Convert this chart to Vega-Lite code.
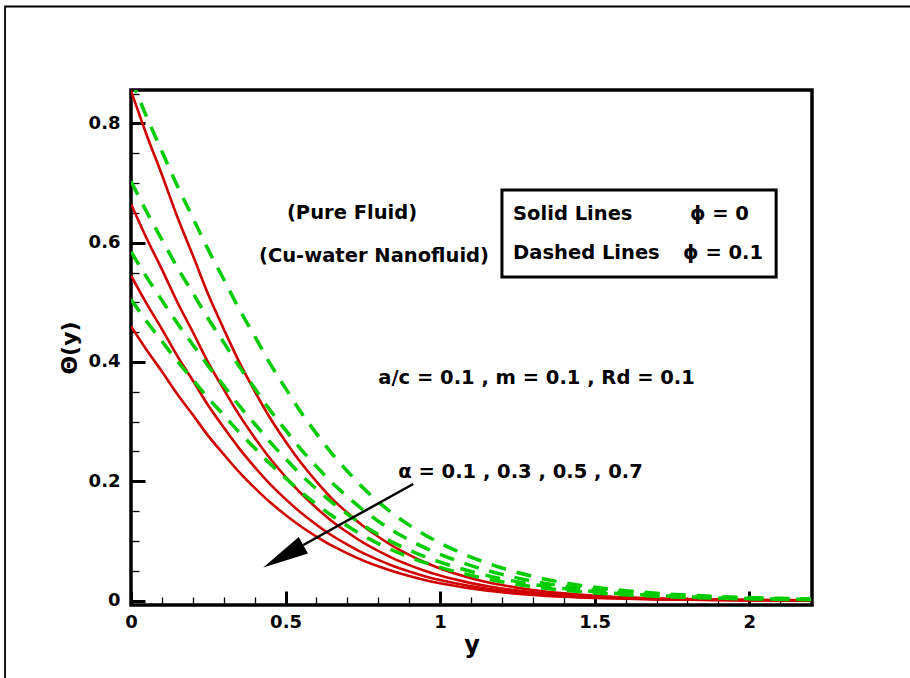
{
"$schema":"https://vega.github.io/schema/vega-lite/v6.json",
"width":681,"height":515,
"autosize":"none",
"padding":{"left":131,"top":90,"right":98,"bottom":73},
"background":"white",
"config":{"view":{"stroke":"black","strokeWidth":3.5},"font":"DejaVu Sans"},
"datasets":{
"curves":[
{"phi":0,"alpha":0.1,"y":0,"theta":0.855},{"phi":0,"alpha":0.1,"y":0.05,"theta":0.7815},{"phi":0,"alpha":0.1,"y":0.1,"theta":0.7139},{"phi":0,"alpha":0.1,"y":0.15,"theta":0.643},{"phi":0,"alpha":0.1,"y":0.2,"theta":0.5788},{"phi":0,"alpha":0.1,"y":0.25,"theta":0.513},{"phi":0,"alpha":0.1,"y":0.3,"theta":0.4553},{"phi":0,"alpha":0.1,"y":0.35,"theta":0.4001},{"phi":0,"alpha":0.1,"y":0.4,"theta":0.3511},{"phi":0,"alpha":0.1,"y":0.45,"theta":0.3061},{"phi":0,"alpha":0.1,"y":0.5,"theta":0.2668},{"phi":0,"alpha":0.1,"y":0.55,"theta":0.2309},{"phi":0,"alpha":0.1,"y":0.6,"theta":0.1995},{"phi":0,"alpha":0.1,"y":0.65,"theta":0.171},{"phi":0,"alpha":0.1,"y":0.7,"theta":0.1471},{"phi":0,"alpha":0.1,"y":0.75,"theta":0.1253},{"phi":0,"alpha":0.1,"y":0.8,"theta":0.1069},{"phi":0,"alpha":0.1,"y":0.85,"theta":0.0903},{"phi":0,"alpha":0.1,"y":0.9,"theta":0.0764},{"phi":0,"alpha":0.1,"y":0.95,"theta":0.0641},{"phi":0,"alpha":0.1,"y":1,"theta":0.0538},{"phi":0,"alpha":0.1,"y":1.1,"theta":0.0375},{"phi":0,"alpha":0.1,"y":1.2,"theta":0.0259},{"phi":0,"alpha":0.1,"y":1.3,"theta":0.0177},{"phi":0,"alpha":0.1,"y":1.4,"theta":0.012},{"phi":0,"alpha":0.1,"y":1.5,"theta":0.008},{"phi":0,"alpha":0.1,"y":1.6,"theta":0.0053},{"phi":0,"alpha":0.1,"y":1.7,"theta":0.0035},{"phi":0,"alpha":0.1,"y":1.8,"theta":0.0023},{"phi":0,"alpha":0.1,"y":1.9,"theta":0.0015},{"phi":0,"alpha":0.1,"y":2,"theta":0.0009},{"phi":0,"alpha":0.1,"y":2.1,"theta":0.0006},{"phi":0,"alpha":0.1,"y":2.2,"theta":0.0003},
{"phi":0,"alpha":0.3,"y":0,"theta":0.665},{"phi":0,"alpha":0.3,"y":0.05,"theta":0.6078},{"phi":0,"alpha":0.3,"y":0.1,"theta":0.5553},{"phi":0,"alpha":0.3,"y":0.15,"theta":0.5001},{"phi":0,"alpha":0.3,"y":0.2,"theta":0.4502},{"phi":0,"alpha":0.3,"y":0.25,"theta":0.399},{"phi":0,"alpha":0.3,"y":0.3,"theta":0.3541},{"phi":0,"alpha":0.3,"y":0.35,"theta":0.3112},{"phi":0,"alpha":0.3,"y":0.4,"theta":0.273},{"phi":0,"alpha":0.3,"y":0.45,"theta":0.2381},{"phi":0,"alpha":0.3,"y":0.5,"theta":0.2075},{"phi":0,"alpha":0.3,"y":0.55,"theta":0.1796},{"phi":0,"alpha":0.3,"y":0.6,"theta":0.1551},{"phi":0,"alpha":0.3,"y":0.65,"theta":0.133},{"phi":0,"alpha":0.3,"y":0.7,"theta":0.1144},{"phi":0,"alpha":0.3,"y":0.75,"theta":0.0974},{"phi":0,"alpha":0.3,"y":0.8,"theta":0.0831},{"phi":0,"alpha":0.3,"y":0.85,"theta":0.0702},{"phi":0,"alpha":0.3,"y":0.9,"theta":0.0594},{"phi":0,"alpha":0.3,"y":0.95,"theta":0.0499},{"phi":0,"alpha":0.3,"y":1,"theta":0.0418},{"phi":0,"alpha":0.3,"y":1.1,"theta":0.0292},{"phi":0,"alpha":0.3,"y":1.2,"theta":0.0201},{"phi":0,"alpha":0.3,"y":1.3,"theta":0.0138},{"phi":0,"alpha":0.3,"y":1.4,"theta":0.0093},{"phi":0,"alpha":0.3,"y":1.5,"theta":0.0063},{"phi":0,"alpha":0.3,"y":1.6,"theta":0.0041},{"phi":0,"alpha":0.3,"y":1.7,"theta":0.0027},{"phi":0,"alpha":0.3,"y":1.8,"theta":0.0018},{"phi":0,"alpha":0.3,"y":1.9,"theta":0.0011},{"phi":0,"alpha":0.3,"y":2,"theta":0.0007},{"phi":0,"alpha":0.3,"y":2.1,"theta":0.0005},{"phi":0,"alpha":0.3,"y":2.2,"theta":0.0003},
{"phi":0,"alpha":0.5,"y":0,"theta":0.545},{"phi":0,"alpha":0.5,"y":0.05,"theta":0.4981},{"phi":0,"alpha":0.5,"y":0.1,"theta":0.4551},{"phi":0,"alpha":0.5,"y":0.15,"theta":0.4098},{"phi":0,"alpha":0.5,"y":0.2,"theta":0.369},{"phi":0,"alpha":0.5,"y":0.25,"theta":0.327},{"phi":0,"alpha":0.5,"y":0.3,"theta":0.2902},{"phi":0,"alpha":0.5,"y":0.35,"theta":0.2551},{"phi":0,"alpha":0.5,"y":0.4,"theta":0.2238},{"phi":0,"alpha":0.5,"y":0.45,"theta":0.1951},{"phi":0,"alpha":0.5,"y":0.5,"theta":0.17},{"phi":0,"alpha":0.5,"y":0.55,"theta":0.1472},{"phi":0,"alpha":0.5,"y":0.6,"theta":0.1271},{"phi":0,"alpha":0.5,"y":0.65,"theta":0.109},{"phi":0,"alpha":0.5,"y":0.7,"theta":0.0937},{"phi":0,"alpha":0.5,"y":0.75,"theta":0.0798},{"phi":0,"alpha":0.5,"y":0.8,"theta":0.0681},{"phi":0,"alpha":0.5,"y":0.85,"theta":0.0576},{"phi":0,"alpha":0.5,"y":0.9,"theta":0.0487},{"phi":0,"alpha":0.5,"y":0.95,"theta":0.0409},{"phi":0,"alpha":0.5,"y":1,"theta":0.0343},{"phi":0,"alpha":0.5,"y":1.1,"theta":0.0239},{"phi":0,"alpha":0.5,"y":1.2,"theta":0.0165},{"phi":0,"alpha":0.5,"y":1.3,"theta":0.0113},{"phi":0,"alpha":0.5,"y":1.4,"theta":0.0076},{"phi":0,"alpha":0.5,"y":1.5,"theta":0.0051},{"phi":0,"alpha":0.5,"y":1.6,"theta":0.0034},{"phi":0,"alpha":0.5,"y":1.7,"theta":0.0022},{"phi":0,"alpha":0.5,"y":1.8,"theta":0.0015},{"phi":0,"alpha":0.5,"y":1.9,"theta":0.0009},{"phi":0,"alpha":0.5,"y":2,"theta":0.0006},{"phi":0,"alpha":0.5,"y":2.1,"theta":0.0004},{"phi":0,"alpha":0.5,"y":2.2,"theta":0.0002},
{"phi":0,"alpha":0.7,"y":0,"theta":0.46},{"phi":0,"alpha":0.7,"y":0.05,"theta":0.4204},{"phi":0,"alpha":0.7,"y":0.1,"theta":0.3841},{"phi":0,"alpha":0.7,"y":0.15,"theta":0.3459},{"phi":0,"alpha":0.7,"y":0.2,"theta":0.3114},{"phi":0,"alpha":0.7,"y":0.25,"theta":0.276},{"phi":0,"alpha":0.7,"y":0.3,"theta":0.245},{"phi":0,"alpha":0.7,"y":0.35,"theta":0.2153},{"phi":0,"alpha":0.7,"y":0.4,"theta":0.1889},{"phi":0,"alpha":0.7,"y":0.45,"theta":0.1647},{"phi":0,"alpha":0.7,"y":0.5,"theta":0.1435},{"phi":0,"alpha":0.7,"y":0.55,"theta":0.1242},{"phi":0,"alpha":0.7,"y":0.6,"theta":0.1073},{"phi":0,"alpha":0.7,"y":0.65,"theta":0.092},{"phi":0,"alpha":0.7,"y":0.7,"theta":0.0791},{"phi":0,"alpha":0.7,"y":0.75,"theta":0.0674},{"phi":0,"alpha":0.7,"y":0.8,"theta":0.0575},{"phi":0,"alpha":0.7,"y":0.85,"theta":0.0486},{"phi":0,"alpha":0.7,"y":0.9,"theta":0.0411},{"phi":0,"alpha":0.7,"y":0.95,"theta":0.0345},{"phi":0,"alpha":0.7,"y":1,"theta":0.0289},{"phi":0,"alpha":0.7,"y":1.1,"theta":0.0202},{"phi":0,"alpha":0.7,"y":1.2,"theta":0.0139},{"phi":0,"alpha":0.7,"y":1.3,"theta":0.0095},{"phi":0,"alpha":0.7,"y":1.4,"theta":0.0064},{"phi":0,"alpha":0.7,"y":1.5,"theta":0.0043},{"phi":0,"alpha":0.7,"y":1.6,"theta":0.0029},{"phi":0,"alpha":0.7,"y":1.7,"theta":0.0019},{"phi":0,"alpha":0.7,"y":1.8,"theta":0.0012},{"phi":0,"alpha":0.7,"y":1.9,"theta":0.0008},{"phi":0,"alpha":0.7,"y":2,"theta":0.0005},{"phi":0,"alpha":0.7,"y":2.1,"theta":0.0003},{"phi":0,"alpha":0.7,"y":2.2,"theta":0.0002},
{"phi":0.1,"alpha":0.1,"y":0,"theta":0.875},{"phi":0.1,"alpha":0.1,"y":0.05,"theta":0.8117},{"phi":0.1,"alpha":0.1,"y":0.1,"theta":0.7531},{"phi":0.1,"alpha":0.1,"y":0.15,"theta":0.6952},{"phi":0.1,"alpha":0.1,"y":0.2,"theta":0.6417},{"phi":0.1,"alpha":0.1,"y":0.25,"theta":0.588},{"phi":0.1,"alpha":0.1,"y":0.3,"theta":0.5387},{"phi":0.1,"alpha":0.1,"y":0.35,"theta":0.4887},{"phi":0.1,"alpha":0.1,"y":0.4,"theta":0.4433},{"phi":0.1,"alpha":0.1,"y":0.45,"theta":0.3971},{"phi":0.1,"alpha":0.1,"y":0.5,"theta":0.3558},{"phi":0.1,"alpha":0.1,"y":0.55,"theta":0.3155},{"phi":0.1,"alpha":0.1,"y":0.6,"theta":0.2798},{"phi":0.1,"alpha":0.1,"y":0.65,"theta":0.2463},{"phi":0.1,"alpha":0.1,"y":0.7,"theta":0.2168},{"phi":0.1,"alpha":0.1,"y":0.75,"theta":0.1894},{"phi":0.1,"alpha":0.1,"y":0.8,"theta":0.1656},{"phi":0.1,"alpha":0.1,"y":0.85,"theta":0.1446},{"phi":0.1,"alpha":0.1,"y":0.9,"theta":0.1264},{"phi":0.1,"alpha":0.1,"y":0.95,"theta":0.1104},{"phi":0.1,"alpha":0.1,"y":1,"theta":0.0964},{"phi":0.1,"alpha":0.1,"y":1.1,"theta":0.0729},{"phi":0.1,"alpha":0.1,"y":1.2,"theta":0.0545},{"phi":0.1,"alpha":0.1,"y":1.3,"theta":0.0404},{"phi":0.1,"alpha":0.1,"y":1.4,"theta":0.0299},{"phi":0.1,"alpha":0.1,"y":1.5,"theta":0.0221},{"phi":0.1,"alpha":0.1,"y":1.6,"theta":0.0165},{"phi":0.1,"alpha":0.1,"y":1.7,"theta":0.0122},{"phi":0.1,"alpha":0.1,"y":1.8,"theta":0.009},{"phi":0.1,"alpha":0.1,"y":1.9,"theta":0.0067},{"phi":0.1,"alpha":0.1,"y":2,"theta":0.0049},{"phi":0.1,"alpha":0.1,"y":2.1,"theta":0.0037},{"phi":0.1,"alpha":0.1,"y":2.2,"theta":0.0027},
{"phi":0.1,"alpha":0.3,"y":0,"theta":0.703},{"phi":0.1,"alpha":0.3,"y":0.05,"theta":0.6522},{"phi":0.1,"alpha":0.3,"y":0.1,"theta":0.6051},{"phi":0.1,"alpha":0.3,"y":0.15,"theta":0.5585},{"phi":0.1,"alpha":0.3,"y":0.2,"theta":0.5156},{"phi":0.1,"alpha":0.3,"y":0.25,"theta":0.4724},{"phi":0.1,"alpha":0.3,"y":0.3,"theta":0.4328},{"phi":0.1,"alpha":0.3,"y":0.35,"theta":0.3926},{"phi":0.1,"alpha":0.3,"y":0.4,"theta":0.3561},{"phi":0.1,"alpha":0.3,"y":0.45,"theta":0.319},{"phi":0.1,"alpha":0.3,"y":0.5,"theta":0.2858},{"phi":0.1,"alpha":0.3,"y":0.55,"theta":0.2535},{"phi":0.1,"alpha":0.3,"y":0.6,"theta":0.2248},{"phi":0.1,"alpha":0.3,"y":0.65,"theta":0.1979},{"phi":0.1,"alpha":0.3,"y":0.7,"theta":0.1742},{"phi":0.1,"alpha":0.3,"y":0.75,"theta":0.1522},{"phi":0.1,"alpha":0.3,"y":0.8,"theta":0.133},{"phi":0.1,"alpha":0.3,"y":0.85,"theta":0.1162},{"phi":0.1,"alpha":0.3,"y":0.9,"theta":0.1015},{"phi":0.1,"alpha":0.3,"y":0.95,"theta":0.0887},{"phi":0.1,"alpha":0.3,"y":1,"theta":0.0775},{"phi":0.1,"alpha":0.3,"y":1.1,"theta":0.0586},{"phi":0.1,"alpha":0.3,"y":1.2,"theta":0.0438},{"phi":0.1,"alpha":0.3,"y":1.3,"theta":0.0325},{"phi":0.1,"alpha":0.3,"y":1.4,"theta":0.024},{"phi":0.1,"alpha":0.3,"y":1.5,"theta":0.0178},{"phi":0.1,"alpha":0.3,"y":1.6,"theta":0.0132},{"phi":0.1,"alpha":0.3,"y":1.7,"theta":0.0098},{"phi":0.1,"alpha":0.3,"y":1.8,"theta":0.0072},{"phi":0.1,"alpha":0.3,"y":1.9,"theta":0.0053},{"phi":0.1,"alpha":0.3,"y":2,"theta":0.0039},{"phi":0.1,"alpha":0.3,"y":2.1,"theta":0.003},{"phi":0.1,"alpha":0.3,"y":2.2,"theta":0.0022},
{"phi":0.1,"alpha":0.5,"y":0,"theta":0.585},{"phi":0.1,"alpha":0.5,"y":0.05,"theta":0.5427},{"phi":0.1,"alpha":0.5,"y":0.1,"theta":0.5035},{"phi":0.1,"alpha":0.5,"y":0.15,"theta":0.4648},{"phi":0.1,"alpha":0.5,"y":0.2,"theta":0.429},{"phi":0.1,"alpha":0.5,"y":0.25,"theta":0.3931},{"phi":0.1,"alpha":0.5,"y":0.3,"theta":0.3602},{"phi":0.1,"alpha":0.5,"y":0.35,"theta":0.3267},{"phi":0.1,"alpha":0.5,"y":0.4,"theta":0.2964},{"phi":0.1,"alpha":0.5,"y":0.45,"theta":0.2655},{"phi":0.1,"alpha":0.5,"y":0.5,"theta":0.2379},{"phi":0.1,"alpha":0.5,"y":0.55,"theta":0.211},{"phi":0.1,"alpha":0.5,"y":0.6,"theta":0.1871},{"phi":0.1,"alpha":0.5,"y":0.65,"theta":0.1647},{"phi":0.1,"alpha":0.5,"y":0.7,"theta":0.145},{"phi":0.1,"alpha":0.5,"y":0.75,"theta":0.1267},{"phi":0.1,"alpha":0.5,"y":0.8,"theta":0.1107},{"phi":0.1,"alpha":0.5,"y":0.85,"theta":0.0967},{"phi":0.1,"alpha":0.5,"y":0.9,"theta":0.0845},{"phi":0.1,"alpha":0.5,"y":0.95,"theta":0.0738},{"phi":0.1,"alpha":0.5,"y":1,"theta":0.0645},{"phi":0.1,"alpha":0.5,"y":1.1,"theta":0.0487},{"phi":0.1,"alpha":0.5,"y":1.2,"theta":0.0364},{"phi":0.1,"alpha":0.5,"y":1.3,"theta":0.027},{"phi":0.1,"alpha":0.5,"y":1.4,"theta":0.02},{"phi":0.1,"alpha":0.5,"y":1.5,"theta":0.0148},{"phi":0.1,"alpha":0.5,"y":1.6,"theta":0.011},{"phi":0.1,"alpha":0.5,"y":1.7,"theta":0.0081},{"phi":0.1,"alpha":0.5,"y":1.8,"theta":0.006},{"phi":0.1,"alpha":0.5,"y":1.9,"theta":0.0044},{"phi":0.1,"alpha":0.5,"y":2,"theta":0.0033},{"phi":0.1,"alpha":0.5,"y":2.1,"theta":0.0025},{"phi":0.1,"alpha":0.5,"y":2.2,"theta":0.0018},
{"phi":0.1,"alpha":0.7,"y":0,"theta":0.505},{"phi":0.1,"alpha":0.7,"y":0.05,"theta":0.4685},{"phi":0.1,"alpha":0.7,"y":0.1,"theta":0.4347},{"phi":0.1,"alpha":0.7,"y":0.15,"theta":0.4012},{"phi":0.1,"alpha":0.7,"y":0.2,"theta":0.3704},{"phi":0.1,"alpha":0.7,"y":0.25,"theta":0.3394},{"phi":0.1,"alpha":0.7,"y":0.3,"theta":0.3109},{"phi":0.1,"alpha":0.7,"y":0.35,"theta":0.282},{"phi":0.1,"alpha":0.7,"y":0.4,"theta":0.2558},{"phi":0.1,"alpha":0.7,"y":0.45,"theta":0.2292},{"phi":0.1,"alpha":0.7,"y":0.5,"theta":0.2053},{"phi":0.1,"alpha":0.7,"y":0.55,"theta":0.1821},{"phi":0.1,"alpha":0.7,"y":0.6,"theta":0.1615},{"phi":0.1,"alpha":0.7,"y":0.65,"theta":0.1422},{"phi":0.1,"alpha":0.7,"y":0.7,"theta":0.1251},{"phi":0.1,"alpha":0.7,"y":0.75,"theta":0.1093},{"phi":0.1,"alpha":0.7,"y":0.8,"theta":0.0955},{"phi":0.1,"alpha":0.7,"y":0.85,"theta":0.0835},{"phi":0.1,"alpha":0.7,"y":0.9,"theta":0.0729},{"phi":0.1,"alpha":0.7,"y":0.95,"theta":0.0637},{"phi":0.1,"alpha":0.7,"y":1,"theta":0.0557},{"phi":0.1,"alpha":0.7,"y":1.1,"theta":0.0421},{"phi":0.1,"alpha":0.7,"y":1.2,"theta":0.0315},{"phi":0.1,"alpha":0.7,"y":1.3,"theta":0.0233},{"phi":0.1,"alpha":0.7,"y":1.4,"theta":0.0173},{"phi":0.1,"alpha":0.7,"y":1.5,"theta":0.0128},{"phi":0.1,"alpha":0.7,"y":1.6,"theta":0.0095},{"phi":0.1,"alpha":0.7,"y":1.7,"theta":0.007},{"phi":0.1,"alpha":0.7,"y":1.8,"theta":0.0052},{"phi":0.1,"alpha":0.7,"y":1.9,"theta":0.0038},{"phi":0.1,"alpha":0.7,"y":2,"theta":0.0028},{"phi":0.1,"alpha":0.7,"y":2.1,"theta":0.0021},{"phi":0.1,"alpha":0.7,"y":2.2,"theta":0.0016}
],
"centerNotes":[
{"note":"(Pure Fluid)","y":0.715,"theta":0.65},
{"note":"(Cu-water Nanofluid)","y":0.786,"theta":0.578},
{"note":"a/c = 0.1 , m = 0.1 , Rd = 0.1","y":1.312,"theta":0.373},
{"note":"α = 0.1 , 0.3 , 0.5 , 0.7","y":1.26,"theta":0.2155}
],
"leftNotes":[
{"note":"Solid Lines","y":1.236,"theta":0.648},
{"note":"ϕ = 0","y":1.808,"theta":0.648},
{"note":"Dashed Lines","y":1.236,"theta":0.5827},
{"note":"ϕ = 0.1","y":1.786,"theta":0.5827}
]
},
"layer":[
{"data":{"values":[{"y":-0.4075,"theta":0.996,"y2":3,"theta2":-0.5}]},
 "mark":{"type":"rect","fill":"transparent","stroke":"black","strokeWidth":1.8,"clip":false},
 "encoding":{"x":{"field":"y","type":"quantitative","scale":{"domain":[0,2.203],"nice":false,"zero":false},"axis":null},"x2":{"field":"y2"},"y":{"field":"theta","type":"quantitative","scale":{"domain":[-0.0075,0.856],"nice":false,"zero":false},"axis":null},"y2":{"field":"theta2"}}},
{"data":{"name":"curves"},
 "transform":[{"filter":"datum.phi == 0"}],
 "mark":{"type":"line","color":"#d00000","strokeWidth":2.6,"clip":true,"interpolate":"monotone"},
 "encoding":{
  "x":{"field":"y","type":"quantitative","scale":{"domain":[0,2.203],"nice":false,"zero":false},
   "axis":{"orient":"bottom","values":[0,0.5,1,1.5,2],"format":"~g","tickSize":-14,"tickWidth":3,"tickColor":"black","domain":false,"grid":false,"labelFont":"DejaVu Sans","labelFontWeight":"bold","labelFontSize":18,"labelColor":"black","labelPadding":22,"labelFlush":false,"labelOverlap":false,"title":"y","titleFont":"DejaVu Sans","titleFontWeight":"bold","titleFontSize":24,"titleColor":"black","titlePadding":2}},
  "y":{"field":"theta","type":"quantitative","scale":{"domain":[-0.0075,0.856],"nice":false,"zero":false},
   "axis":{"orient":"left","values":[0,0.2,0.4,0.6,0.8],"format":"~g","tickSize":-14,"tickWidth":3,"tickColor":"black","domain":false,"grid":false,"labelFont":"DejaVu Sans","labelFontWeight":"bold","labelFontSize":18,"labelColor":"black","labelPadding":25,"labelFlush":false,"labelOverlap":false,"title":"Θ(y)","titleFont":"DejaVu Sans","titleFontWeight":"bold","titleFontSize":22,"titleColor":"black","titlePadding":7}},
  "detail":{"field":"alpha","type":"nominal"}}},
{"data":{"name":"curves"},
 "transform":[{"filter":"datum.phi == 0.1"}],
 "mark":{"type":"line","color":"#00cc00","strokeWidth":3.5,"strokeDash":[15,11],"clip":true,"interpolate":"monotone"},
 "encoding":{
  "x":{"field":"y","type":"quantitative","scale":{"domain":[0,2.203],"nice":false,"zero":false},
   "axis":{"orient":"bottom","values":[0.1,0.2,0.3,0.4,0.6,0.7,0.8,0.9,1.1,1.2,1.3,1.4,1.6,1.7,1.8,1.9,2.1],"tickSize":-8,"tickWidth":1.3,"tickColor":"black","labels":false,"domain":false,"grid":false,"title":null}},
  "y":{"field":"theta","type":"quantitative","scale":{"domain":[-0.0075,0.856],"nice":false,"zero":false},
   "axis":{"orient":"left","values":[0.05,0.1,0.15,0.25,0.3,0.35,0.45,0.5,0.55,0.65,0.7,0.75,0.85],"tickSize":-8,"tickWidth":1.3,"tickColor":"black","labels":false,"domain":false,"grid":false,"title":null}},
  "detail":{"field":"alpha","type":"nominal"}}},
{"data":{"values":[{"y":0.913,"theta":0.1954,"y2":0.5574,"theta2":0.0931}]},
 "mark":{"type":"rule","color":"black","strokeWidth":2.5},
 "encoding":{"x":{"field":"y","type":"quantitative","scale":{"domain":[0,2.203],"nice":false,"zero":false},"axis":null},"x2":{"field":"y2"},"y":{"field":"theta","type":"quantitative","scale":{"domain":[-0.0075,0.856],"nice":false,"zero":false},"axis":null},"y2":{"field":"theta2"}}},
{"data":{"values":[{"y":0.4927,"theta":0.074}]},
 "mark":{"type":"point","shape":"M0,-1L0.41,1L-0.41,1Z","size":2116,"angle":240.8,"filled":true,"color":"black","opacity":1,"strokeWidth":0},
 "encoding":{"x":{"field":"y","type":"quantitative","scale":{"domain":[0,2.203],"nice":false,"zero":false},"axis":null},"y":{"field":"theta","type":"quantitative","scale":{"domain":[-0.0075,0.856],"nice":false,"zero":false},"axis":null}}},
{"data":{"values":[{"y":1.2,"theta":0.6883,"y2":2.087,"theta2":0.5425}]},
 "mark":{"type":"rect","fill":"transparent","stroke":"black","strokeWidth":3},
 "encoding":{"x":{"field":"y","type":"quantitative","scale":{"domain":[0,2.203],"nice":false,"zero":false},"axis":null},"x2":{"field":"y2"},"y":{"field":"theta","type":"quantitative","scale":{"domain":[-0.0075,0.856],"nice":false,"zero":false},"axis":null},"y2":{"field":"theta2"}}},
{"data":{"name":"centerNotes"},
 "mark":{"type":"text","font":"DejaVu Sans","fontWeight":"bold","fontSize":19.5,"color":"black","align":"center","baseline":"middle"},
 "encoding":{"x":{"field":"y","type":"quantitative","scale":{"domain":[0,2.203],"nice":false,"zero":false},"axis":null},"y":{"field":"theta","type":"quantitative","scale":{"domain":[-0.0075,0.856],"nice":false,"zero":false},"axis":null},"text":{"field":"note"}}},
{"data":{"name":"leftNotes"},
 "mark":{"type":"text","font":"DejaVu Sans","fontWeight":"bold","fontSize":19.5,"color":"black","align":"left","baseline":"middle"},
 "encoding":{"x":{"field":"y","type":"quantitative","scale":{"domain":[0,2.203],"nice":false,"zero":false},"axis":null},"y":{"field":"theta","type":"quantitative","scale":{"domain":[-0.0075,0.856],"nice":false,"zero":false},"axis":null},"text":{"field":"note"}}}
],
"resolve":{"axis":{"x":"independent","y":"independent"}}
}
